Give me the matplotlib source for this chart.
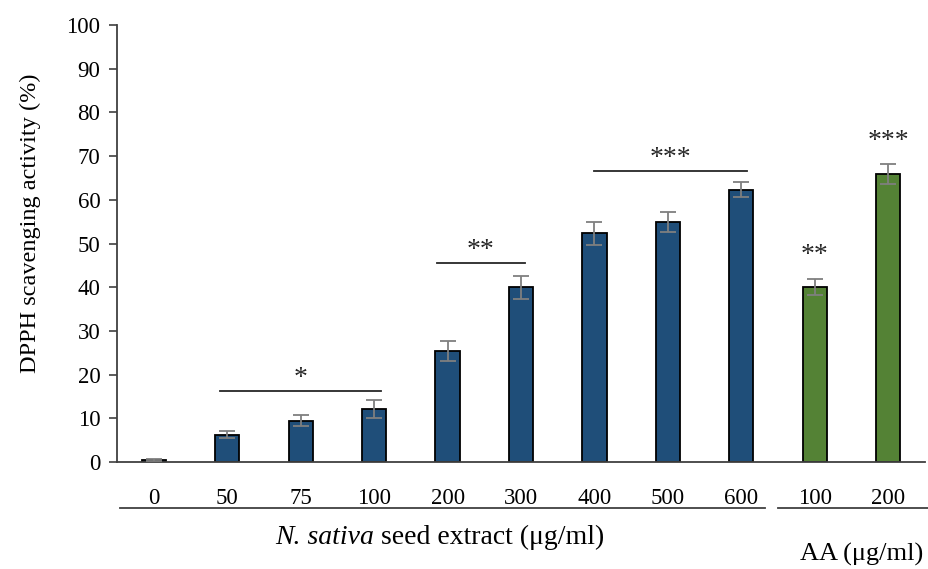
import matplotlib
matplotlib.use("Agg")
import matplotlib.pyplot as plt
import numpy as np

plt.rcParams['font.family'] = ['Liberation Serif', 'DejaVu Serif']

# DPPH scavenging activity (%) for N. sativa seed extract and ascorbic acid (AA)
tick_labels = ["0", "50", "75", "100", "200", "300", "400", "500", "600", "100", "200"]
activity = [0.5, 6.2, 9.5, 12.2, 25.5, 40.0, 52.3, 55.0, 62.3, 40.0, 66.0]
errors = [0.3, 0.8, 1.3, 2.1, 2.3, 2.6, 2.7, 2.3, 1.7, 1.8, 2.3]
groups = ["extract"] * 9 + ["AA"] * 2

# significance brackets: (first index, last index, bracket y, label)
brackets = [(0.9, 3.1, 16.2, "*"), (3.85, 5.05, 45.5, "**"), (6.0, 8.08, 66.5, "***")]
# single-bar significance labels: (index, y, label)
bar_marks = [(9, 44.5, "**"), (10, 70.5, "***")]

blue = "#1F4E79"
green = "#548235"
colors = [blue if g == "extract" else green for g in groups]

fig = plt.figure(figsize=(9.29, 5.69), dpi=100)
ax = fig.add_axes([0.126, 0.188, 0.8697, 0.768])

x = np.arange(len(activity))
ax.bar(x, activity, width=0.33, color=colors, edgecolor="black", linewidth=1.3, zorder=2)
ax.errorbar(x, activity, yerr=errors, fmt="none", ecolor="#7f7f7f", elinewidth=1.3,
            capsize=6, capthick=1.3, zorder=3)

for x0, x1, yb, lab in brackets:
    ax.plot([x0, x1], [yb, yb], color="#262626", lw=1.3, zorder=3)
    ax.text((x0 + x1) / 2, yb + 0.1, lab, ha="center", va="bottom", fontsize=20,
            color="#262626")
for i, yb, lab in bar_marks:
    ax.text(i, yb, lab, ha="center", va="bottom", fontsize=20, color="#262626")

ax.set_xlim(-0.5, 10.5)
ax.set_ylim(0, 100)
ax.set_yticks(np.arange(0, 101, 10))
ax.set_xticks(x)
ax.set_xticklabels(tick_labels)
ax.tick_params(axis="x", length=0, pad=19, labelsize=16.5)
ax.tick_params(axis="y", length=6, width=1.2, direction="out", labelsize=16.5, pad=6,
               color="#404040")
for s in ["top", "right"]:
    ax.spines[s].set_visible(False)
for s in ["left", "bottom"]:
    ax.spines[s].set_color("#404040")
    ax.spines[s].set_linewidth(1.3)

ax.set_ylabel("DPPH scavenging activity (%)", fontsize=17.5)
ax.yaxis.set_label_coords(-0.094, 0.547)

# group underlines and group labels below the tick labels
tr = ax.get_xaxis_transform()
ax.plot([-0.46, 8.32], [-0.105, -0.105], transform=tr, clip_on=False, color="#404040", lw=1.3)
ax.plot([8.5, 10.6], [-0.105, -0.105], transform=tr, clip_on=False, color="#404040", lw=1.3)
species = ax.text(1.65, -0.172, "N. sativa", transform=tr, ha="left", va="center",
                  fontsize=20, fontstyle="italic")
ax.annotate(" seed extract (μg/ml)", xy=(1, 0.5), xycoords=species, ha="left",
            va="center", fontsize=20)
ax.text(9.64, -0.212, "AA (μg/ml)", transform=tr, ha="center", va="center", fontsize=19)

fig.savefig("out.png", dpi=100)
